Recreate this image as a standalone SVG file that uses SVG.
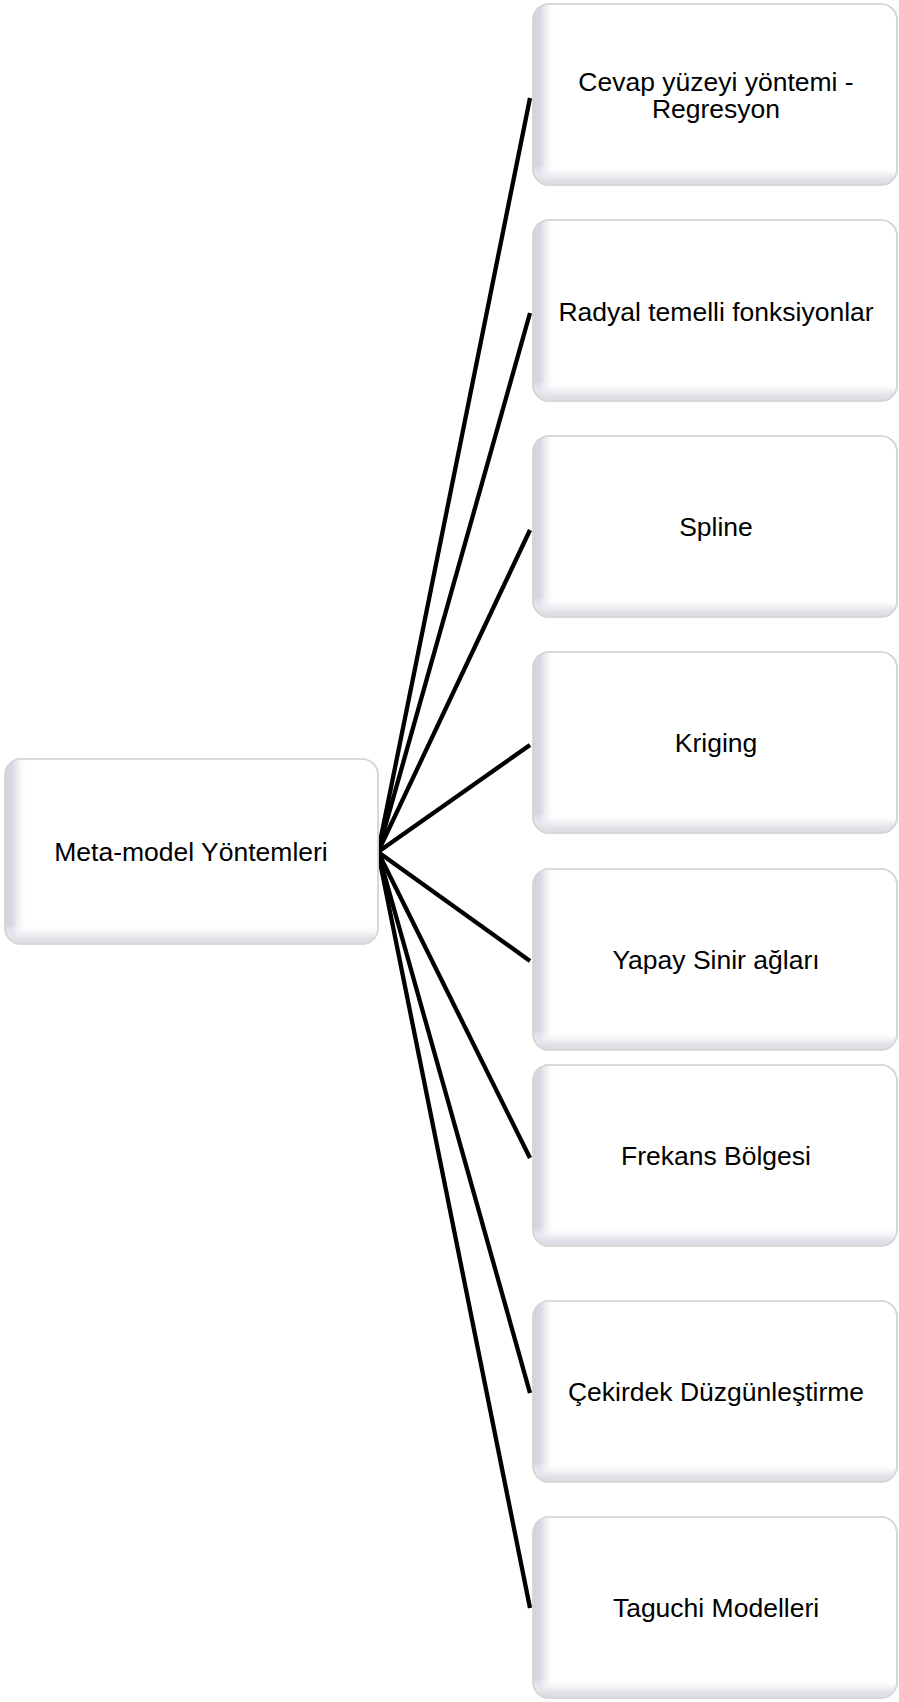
<svg xmlns="http://www.w3.org/2000/svg" xmlns:xlink="http://www.w3.org/1999/xlink" width="899" height="1702" viewBox="0 0 899 1702">
<style>
.frame{fill:#ffffff;stroke:#d6d6d6;stroke-width:1.6}
.lbl{font-family:"Liberation Sans",Arial,sans-serif;font-size:26.5px;fill:#000000;text-anchor:middle}
.conn{stroke:#000000;stroke-width:4.3;fill:none;stroke-linecap:butt}
</style>
<defs>
<linearGradient id="gl" x1="0" y1="0" x2="1" y2="0">
<stop offset="0" stop-color="#d2d2dc"/>
<stop offset="0.35" stop-color="#d8d8e2"/>
<stop offset="1" stop-color="#ffffff" stop-opacity="0"/>
</linearGradient>
<linearGradient id="gb" x1="0" y1="1" x2="0" y2="0">
<stop offset="0" stop-color="#dadae2"/>
<stop offset="0.3" stop-color="#e2e2ea"/>
<stop offset="1" stop-color="#ffffff" stop-opacity="0"/>
</linearGradient>
<clipPath id="cr"><rect x="0" y="0" width="364" height="181" rx="16"/></clipPath>
<clipPath id="cc"><rect x="0" y="0" width="373" height="185" rx="16"/></clipPath>
<symbol id="rbox" overflow="visible">
<rect class="frame" x="0" y="0" width="364" height="181" rx="16"/>
<g clip-path="url(#cr)">
<rect x="0" y="0" width="22" height="181" fill="url(#gl)"/>
<rect x="0" y="161" width="364" height="20" fill="url(#gb)"/>
</g>
<rect x="0" y="0" width="364" height="181" rx="16" fill="none" stroke="#d6d6d6" stroke-width="1.6"/>
</symbol>
<symbol id="cbox" overflow="visible">
<rect class="frame" x="0" y="0" width="373" height="185" rx="16"/>
<g clip-path="url(#cc)">
<rect x="0" y="0" width="22" height="185" fill="url(#gl)"/>
<rect x="0" y="165" width="373" height="20" fill="url(#gb)"/>
</g>
<rect x="0" y="0" width="373" height="185" rx="16" fill="none" stroke="#d6d6d6" stroke-width="1.6"/>
</symbol>
</defs>
<rect width="899" height="1702" fill="#ffffff"/>
<g id="connectors">
<line class="conn" x1="378" y1="852" x2="530" y2="98"/>
<line class="conn" x1="378" y1="852" x2="530" y2="313"/>
<line class="conn" x1="378" y1="852" x2="530" y2="530"/>
<line class="conn" x1="378" y1="852" x2="530" y2="745"/>
<line class="conn" x1="378" y1="852" x2="530" y2="961"/>
<line class="conn" x1="378" y1="852" x2="530" y2="1158"/>
<line class="conn" x1="378" y1="852" x2="530" y2="1393"/>
<line class="conn" x1="378" y1="852" x2="530" y2="1608"/>
</g>
<g id="node-center">
<use xlink:href="#cbox" x="5" y="759"/>
<text class="lbl" x="191" y="861">Meta-model Yöntemleri</text>
</g>
<g id="node-1">
<use xlink:href="#rbox" x="533" y="4"/>
<text class="lbl" x="716" y="91">Cevap yüzeyi yöntemi -</text>
<text class="lbl" x="716" y="118">Regresyon</text>
</g>
<g id="node-2">
<use xlink:href="#rbox" x="533" y="220"/>
<text class="lbl" x="716" y="321">Radyal temelli fonksiyonlar</text>
</g>
<g id="node-3">
<use xlink:href="#rbox" x="533" y="436"/>
<text class="lbl" x="716" y="536">Spline</text>
</g>
<g id="node-4">
<use xlink:href="#rbox" x="533" y="652"/>
<text class="lbl" x="716" y="752">Kriging</text>
</g>
<g id="node-5">
<use xlink:href="#rbox" x="533" y="869"/>
<text class="lbl" x="716" y="969">Yapay Sinir ağları</text>
</g>
<g id="node-6">
<use xlink:href="#rbox" x="533" y="1065"/>
<text class="lbl" x="716" y="1165">Frekans Bölgesi</text>
</g>
<g id="node-7">
<use xlink:href="#rbox" x="533" y="1301"/>
<text class="lbl" x="716" y="1401">Çekirdek Düzgünleştirme</text>
</g>
<g id="node-8">
<use xlink:href="#rbox" x="533" y="1517"/>
<text class="lbl" x="716" y="1617">Taguchi Modelleri</text>
</g>
</svg>
